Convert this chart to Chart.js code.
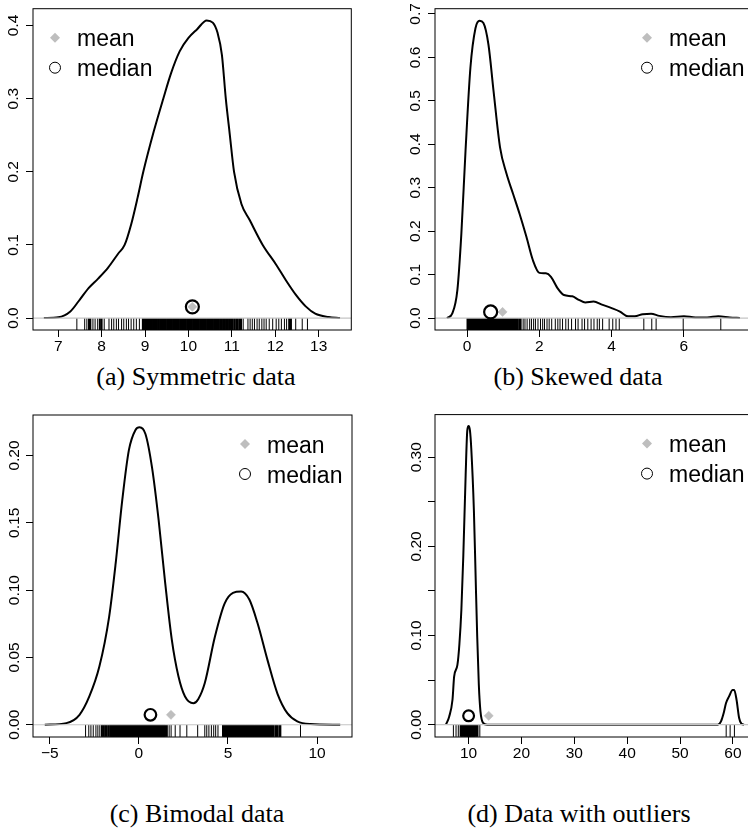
<!DOCTYPE html>
<html lang="en">
<head>
<meta charset="utf-8">
<title>Density plots</title>
<script src="https://cdn.jsdelivr.net/npm/chart.js"></script>
<style>
  html, body { margin: 0; padding: 0; background: #fff; overflow: hidden; width: 748px; height: 833px; }
  canvas { position: absolute; }
  .cap { position: absolute; width: 300px; text-align: center; font-family: "Liberation Serif", serif; font-size: 26px; line-height: 30px; color: #000; }
</style>
</head>
<body>
<canvas id="pa" width="360" height="360" style="left:0;top:0"></canvas>
<canvas id="pb" width="362" height="360" style="left:400px;top:0"></canvas>
<canvas id="pc" width="360" height="360" style="left:0;top:407px"></canvas>
<canvas id="pd" width="362" height="360" style="left:400px;top:407px"></canvas>
<div class="cap" style="left:46px;top:362px">(a) Symmetric data</div>
<div class="cap" style="left:428px;top:362px">(b) Skewed data</div>
<div class="cap" style="left:47px;top:799px">(c) Bimodal data</div>
<div class="cap" style="left:429px;top:799px">(d) Data with outliers</div>

<script>
// ---- data ----
const densAX = [6.67, 7.0, 7.28, 7.47, 7.70, 7.92, 8.15, 8.38, 8.53, 8.68, 8.83, 8.96, 9.2, 9.42, 9.6, 9.8, 10.0, 10.2, 10.42, 10.56, 10.67, 10.77, 10.86, 10.95, 11.05, 11.22, 11.41, 11.71, 12.02, 12.24, 12.47, 12.70, 12.92, 13.23, 13.49];
const densAY = [0, 0.001, 0.009, 0.023, 0.041, 0.054, 0.069, 0.088, 0.100, 0.128, 0.165, 0.200, 0.255, 0.300, 0.335, 0.365, 0.383, 0.395, 0.407, 0.404, 0.390, 0.360, 0.300, 0.252, 0.200, 0.156, 0.134, 0.100, 0.073, 0.052, 0.032, 0.016, 0.006, 0.0014, 0];

const densBX = [-0.56, -0.41, -0.27, -0.16, -0.045, 0.09, 0.23, 0.345, 0.45, 0.59, 0.73, 0.91, 1.09, 1.27, 1.45, 1.64, 1.82, 2.0, 2.18, 2.32, 2.5, 2.68, 2.91, 3.09, 3.27, 3.5, 3.73, 4.0, 4.23, 4.45, 4.64, 4.86, 5.09, 5.32, 5.64, 6.0, 6.32, 6.64, 6.95, 7.27, 7.55];
const densBY = [0, 0.011, 0.065, 0.195, 0.385, 0.576, 0.667, 0.684, 0.679, 0.629, 0.523, 0.393, 0.332, 0.286, 0.240, 0.187, 0.133, 0.104, 0.103, 0.095, 0.069, 0.053, 0.050, 0.042, 0.036, 0.038, 0.031, 0.023, 0.015, 0.004, 0.004, 0.009, 0.010, 0.005, 0.002, 0.004, 0.0015, 0.0015, 0.004, 0.0015, 0];

const densCX = [-5.28, -4.07, -3.33, -2.78, -2.22, -1.67, -1.30, -0.93, -0.56, -0.19, 0.04, 0.37, 0.74, 1.11, 1.48, 1.85, 2.22, 2.59, 3.06, 3.33, 3.70, 4.26, 4.81, 5.28, 5.74, 6.20, 6.67, 7.22, 7.78, 8.33, 8.89, 9.63, 11.3];
const densCY = [0, 0.0012, 0.0074, 0.021, 0.043, 0.080, 0.120, 0.167, 0.204, 0.219, 0.221, 0.216, 0.191, 0.152, 0.105, 0.063, 0.036, 0.021, 0.016, 0.019, 0.031, 0.065, 0.090, 0.098, 0.099, 0.093, 0.075, 0.048, 0.023, 0.0086, 0.0025, 0.0005, 0];

const densDX = [5.70, 6.32, 6.95, 7.26, 7.88, 8.25, 8.63, 9.0, 9.44, 9.75, 10.0, 10.25, 10.5, 11.0, 11.31, 11.62, 11.93, 12.24, 12.74, 13.5, 57.13, 57.75, 58.26, 58.69, 59.3, 59.94, 60.25, 60.69, 61.18, 61.62, 62.1];
const densDY = [0, 0.009, 0.028, 0.054, 0.067, 0.09, 0.129, 0.19, 0.28, 0.33, 0.335, 0.33, 0.31, 0.24, 0.17, 0.10, 0.045, 0.015, 0.002, 0, 0, 0.0037, 0.013, 0.024, 0.032, 0.039, 0.039, 0.028, 0.0075, 0.001, 0];

// rug ticks (observations)
const rugA = [7.43, 7.61, 7.66, 7.71, 7.74, 7.80, 7.85, 7.91, 7.96, 8.00, 8.06,
  8.17, 8.23, 8.28, 8.34, 8.39, 8.46, 8.51, 8.57, 8.62, 8.68, 8.74, 8.80, 8.87,
  8.95, 8.97, 9.00, 9.03, 9.05, 9.08, 9.11, 9.13, 9.16, 9.19, 9.21, 9.24, 9.27, 9.30, 9.32, 9.35, 9.38, 9.40, 9.43, 9.46,
  9.48, 9.51, 9.54, 9.57, 9.59, 9.62, 9.65, 9.67, 9.70, 9.73, 9.75, 9.78, 9.81, 9.84, 9.86, 9.89, 9.92, 9.94, 9.97, 10.00,
  10.02, 10.05, 10.08, 10.11, 10.13, 10.16, 10.19, 10.21, 10.24, 10.27, 10.29, 10.32, 10.35, 10.38, 10.40, 10.43, 10.46,
  10.48, 10.51, 10.54, 10.56, 10.59, 10.62, 10.65, 10.67, 10.70, 10.73,
  10.77, 10.80, 10.84, 10.87, 10.91, 10.95, 10.98, 11.02, 11.06, 11.10, 11.13, 11.17, 11.21, 11.26,
  11.37, 11.42, 11.47, 11.52, 11.58, 11.63, 11.69, 11.74, 11.79, 11.86,
  11.94, 12.02, 12.08, 12.14, 12.21, 12.26, 12.32, 12.36, 12.47, 12.62, 12.74];
const rugB = [0.01, 0.04, 0.06, 0.09, 0.12, 0.14, 0.17, 0.20, 0.22, 0.25, 0.28, 0.30, 0.33, 0.36, 0.38, 0.41, 0.44,
  0.46, 0.49, 0.52, 0.54, 0.57, 0.60, 0.62, 0.65, 0.68, 0.70, 0.73, 0.76, 0.78, 0.81, 0.84, 0.86, 0.89, 0.92,
  0.94, 0.97, 1.00, 1.03, 1.06, 1.09, 1.12, 1.15, 1.18, 1.21, 1.24, 1.27, 1.30, 1.33, 1.36, 1.39,
  1.44, 1.48, 1.55, 1.60, 1.66, 1.73, 1.78, 1.84, 1.89, 1.96, 2.03, 2.09, 2.14, 2.21, 2.27, 2.34, 2.44, 2.51,
  2.57, 2.64, 2.73, 2.80, 2.89, 3.00, 3.07, 3.18, 3.25, 3.34, 3.43, 3.51, 3.60, 3.66, 3.75, 3.93, 4.03, 4.12,
  4.21, 4.89, 5.11, 5.23, 5.98, 7.02];
const rugC = [-2.99, -2.81, -2.69, -2.56, -2.41, -2.30, -2.19, -2.07, -1.98, -1.89, -1.80, -1.70, -1.61,
  -1.55, -1.50, -1.44, -1.39, -1.33, -1.27, -1.22, -1.16, -1.11, -1.05, -1.00, -0.94, -0.89, -0.83, -0.78,
  -0.72, -0.67, -0.61, -0.56, -0.50, -0.45, -0.39, -0.34, -0.28, -0.23, -0.17, -0.12, -0.06, -0.01, 0.05,
  0.10, 0.16, 0.21, 0.27, 0.32, 0.38, 0.43, 0.49, 0.54, 0.60, 0.65, 0.71, 0.76, 0.82, 0.87, 0.93, 0.98,
  1.04, 1.09, 1.15, 1.20, 1.26, 1.31, 1.37, 1.42, 1.48, 1.57, 1.70, 1.81, 2.04, 2.31, 2.69, 3.30,
  3.70, 3.81, 3.93, 4.07, 4.20, 4.31, 4.44,
  4.72, 4.78, 4.83, 4.89, 4.94, 5.00, 5.06, 5.11, 5.17, 5.22, 5.28, 5.33, 5.39, 5.44, 5.50, 5.56, 5.61,
  5.67, 5.72, 5.78, 5.83, 5.89, 5.94, 6.00, 6.06, 6.11, 6.17, 6.22, 6.28, 6.33, 6.39, 6.44, 6.50, 6.56,
  6.61, 6.67, 6.72, 6.78, 6.83, 6.89, 6.94, 7.00, 7.06, 7.11, 7.17, 7.22, 7.28, 7.33, 7.39, 7.44, 7.50,
  7.56, 7.67, 7.72, 7.78, 7.89, 7.94, 9.07];
const rugD = [7.12, 7.62, 8.05, 8.49, 8.70, 8.87, 9.12, 9.30, 9.49, 9.70, 9.87, 10.00, 10.12, 10.25, 10.37,
  10.50, 10.68, 10.80, 10.99, 11.10, 11.30, 11.50, 11.68, 12.12, 58.73, 59.48, 60.29];

// mean / median markers, one per panel (a, b, c, d)
const meanX = [10.09, 0.98, 1.80, 13.8];
const medianX = [10.09, 0.65, 0.65, 10.0];
const markerY = [0.0154, 0.0140, 0.0074, 0.0100];

// axis limits and tick marks
const xLimA = [6.42, 13.75], yLimA = [-0.0163, 0.423];
const xLimB = [-0.89, 7.92], yLimB = [-0.0275, 0.712];
const xLimC = [-5.94, 11.96], yLimC = [-0.0091, 0.2301];
const xLimD = [3.64, 64.07], yLimD = [-0.0138, 0.3478];
const xTicksA = [7, 8, 9, 10, 11, 12, 13], yTicksA = [0, 0.1, 0.2, 0.3, 0.4];
const xTicksB = [0, 2, 4, 6], yTicksB = [0, 0.1, 0.2, 0.3, 0.4, 0.5, 0.6, 0.7];
const xTicksC = [-5, 0, 5, 10], yTicksC = [0, 0.05, 0.10, 0.15, 0.20];
const xTicksD = [10, 20, 30, 40, 50, 60], yTicksD = [0, 0.05, 0.10, 0.15, 0.20, 0.25, 0.30];

const GRAY = '#bebebe';
const tickFont = { family: 'Liberation Sans', size: 15.5 };

// frame around the plot region
const boxPlugin = {
  id: 'box',
  afterDraw(chart) {
    const a = chart.chartArea, ctx = chart.ctx;
    ctx.save();
    ctx.strokeStyle = '#000';
    ctx.lineWidth = 1;
    ctx.strokeRect(a.left, a.top, a.right - a.left, a.bottom - a.top);
    ctx.restore();
  }
};

// R style legend (mean diamond, median circle)
function legendPlugin(lx) {
  return {
    id: 'rlegend',
    afterDraw(chart) {
      const a = chart.chartArea, ctx = chart.ctx;
      const x = a.left + lx, y1 = a.top + 29, y2 = a.top + 59;
      ctx.save();
      ctx.fillStyle = GRAY;
      ctx.beginPath();
      ctx.moveTo(x, y1 - 5); ctx.lineTo(x + 5, y1); ctx.lineTo(x, y1 + 5); ctx.lineTo(x - 5, y1);
      ctx.closePath(); ctx.fill();
      ctx.strokeStyle = '#000'; ctx.lineWidth = 1;
      ctx.beginPath(); ctx.arc(x, y2, 5.5, 0, Math.PI * 2); ctx.stroke();
      ctx.fillStyle = '#000';
      ctx.font = '23px "Liberation Sans"';
      ctx.textBaseline = 'alphabetic';
      ctx.fillText('mean', x + 22, y1 + 8.5);
      ctx.fillText('median', x + 22, y2 + 8.5);
      ctx.restore();
    }
  };
}

function xLabel(v) { return v < 0 ? '\u2212' + Math.abs(v) : String(v); }

// rug ticks: thin where isolated, a bit heavier inside dense clusters
function rugWidth(ctx) {
  const d = ctx.dataset.data, i = ctx.dataIndex;
  if (!d || i === undefined) return 1;
  const prev = i > 0 ? d[i].x - d[i - 1].x : Infinity;
  const next = i < d.length - 1 ? d[i + 1].x - d[i].x : Infinity;
  const sc = ctx.chart.scales.x;
  const px = Math.min(prev, next) * (sc.width / (sc.max - sc.min));
  return px < 1.8 ? 2 : 1;
}

function panel(id, p) {
  const pts = (xs, ys) => xs.map((x, i) => ({ x: x, y: ys[i] }));
  new Chart(document.getElementById(id), {
    type: 'scatter',
    data: {
      datasets: [
        { label: 'median', data: [{ x: p.median, y: p.my }], pointStyle: 'circle', pointRadius: p.cr,
          pointBorderColor: '#000', pointBorderWidth: 2.2, pointBackgroundColor: 'rgba(0,0,0,0)', order: 0 },
        { label: 'mean', data: [{ x: p.mean, y: p.my }], pointStyle: 'rectRot', pointRadius: 4.6,
          pointBorderColor: GRAY, pointBorderWidth: 0.5, pointBackgroundColor: GRAY, order: 1 },
        { label: 'zero', type: 'line', data: p.xlim.map(x => ({ x: x, y: 0 })), borderColor: '#c4c4c4',
          borderWidth: 1.2, pointRadius: 0, order: 2 },
        { label: 'density', type: 'line', data: pts(p.dx, p.dy), borderColor: '#000', borderWidth: 2,
          pointRadius: 0, cubicInterpolationMode: 'monotone', order: 3 },
        { label: 'rug', data: p.rug.map(x => ({ x: x, y: p.ylim[0] / 2 })), pointStyle: 'line', pointRotation: 90,
          pointRadius: 6, pointBorderColor: '#000', pointBorderWidth: rugWidth, order: 4 }
      ]
    },
    options: {
      responsive: false,
      animation: false,
      events: [],
      layout: { padding: { left: 0, right: 4, top: 7, bottom: 0 } },
      plugins: { legend: { display: false }, tooltip: { enabled: false } },
      scales: {
        x: {
          type: 'linear', min: p.xlim[0], max: p.xlim[1],
          afterBuildTicks: s => { s.ticks = p.xt.map(v => ({ value: v })); },
          afterFit: s => { s.height = 30; s.paddingLeft = 0; s.paddingRight = 0; },
          grid: { drawOnChartArea: false, drawTicks: true, tickLength: 7, tickColor: '#000', tickWidth: 1 },
          border: { display: false },
          ticks: { color: '#000', font: tickFont, padding: 0, maxRotation: 0, autoSkip: false, callback: xLabel }
        },
        y: {
          type: 'linear', min: p.ylim[0], max: p.ylim[1],
          afterBuildTicks: s => { s.ticks = p.yt.map(v => ({ value: v })); },
          afterFit: s => { s.width = p.yw; s.paddingTop = 0; s.paddingBottom = 0; },
          grid: { drawOnChartArea: false, drawTicks: true, tickLength: 7, tickColor: '#000', tickWidth: 1 },
          border: { display: false },
          ticks: { color: '#000', font: tickFont, padding: p.ypad, minRotation: 90, maxRotation: 90,
                   crossAlign: 'center', autoSkip: false, callback: p.ylab }
        }
      }
    },
    plugins: [boxPlugin, legendPlugin(p.lx)]
  });
}

panel('pa', { dx: densAX, dy: densAY, rug: rugA, mean: meanX[0], median: medianX[0], my: markerY[0],
  xlim: xLimA, ylim: yLimA, xt: xTicksA, yt: yTicksA, ylab: v => v.toFixed(1),
  yw: 33, ypad: 2, lx: 22, cr: 6.5 });
panel('pb', { dx: densBX, dy: densBY, rug: rugB, mean: meanX[1], median: medianX[1], my: markerY[1],
  xlim: xLimB, ylim: yLimB, xt: xTicksB, yt: yTicksB, ylab: v => v.toFixed(1),
  yw: 35, ypad: 1.5, lx: 212, cr: 6.5 });
panel('pc', { dx: densCX, dy: densCY, rug: rugC, mean: meanX[2], median: medianX[2], my: markerY[2],
  xlim: xLimC, ylim: yLimC, xt: xTicksC, yt: yTicksC, ylab: v => v.toFixed(2),
  yw: 33, ypad: -4, lx: 212, cr: 5.8 });
panel('pd', { dx: densDX, dy: densDY, rug: rugD, mean: meanX[3], median: medianX[3], my: markerY[3],
  xlim: xLimD, ylim: yLimD, xt: xTicksD, yt: yTicksD,
  ylab: v => (Math.round(v * 100) % 10 === 0 ? v.toFixed(2) : ''),
  yw: 35, ypad: -4, lx: 212, cr: 5.4 });
</script>
</body>
</html>
